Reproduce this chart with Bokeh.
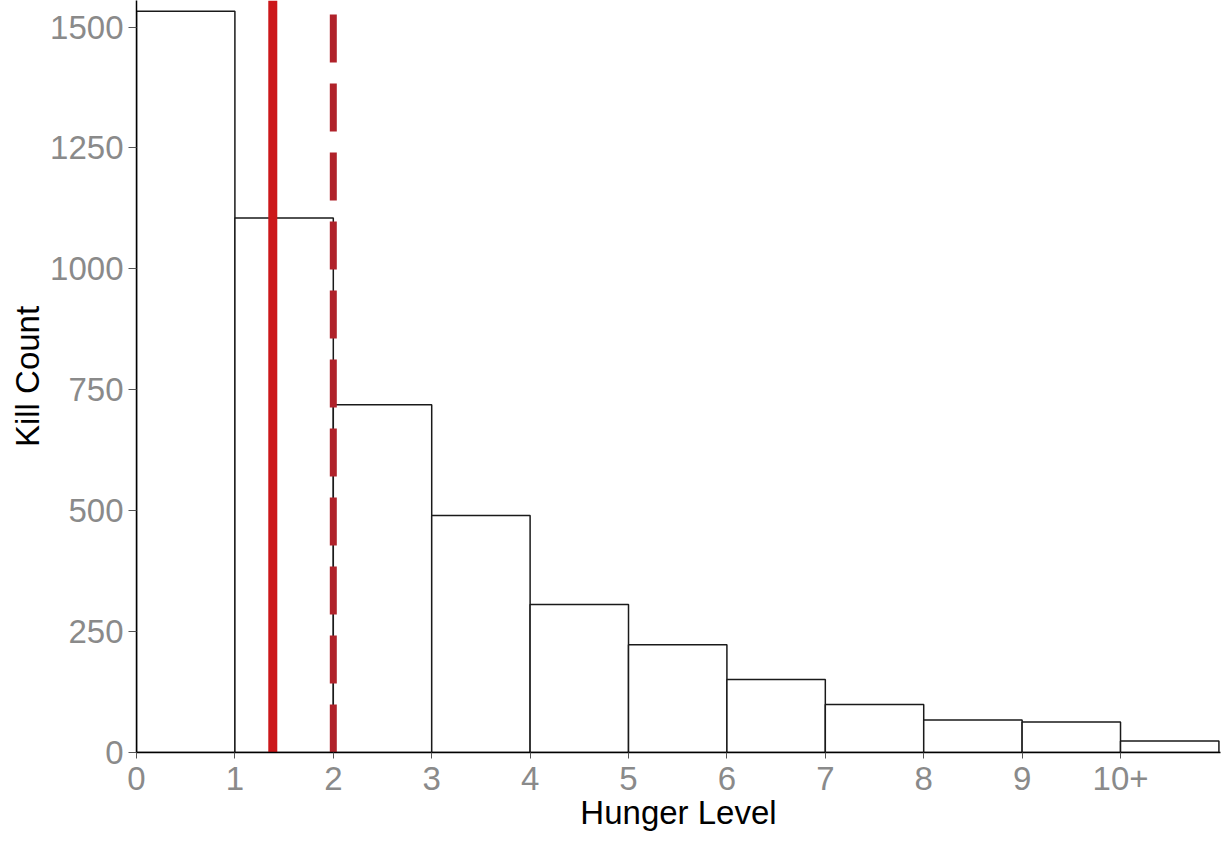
from bokeh.plotting import figure
from bokeh.models import Range1d, FixedTicker
from bokeh.embed import file_html
from bokeh.resources import INLINE

# Data
bin_left = [0, 1, 2, 3, 4, 5, 6, 7, 8, 9, 10]
bin_right = [1, 2, 3, 4, 5, 6, 7, 8, 9, 10, 11]
kill_counts = [1533, 1105, 719, 490, 306, 223, 151, 99, 67, 63, 24]
x_ticks = [0, 1, 2, 3, 4, 5, 6, 7, 8, 9, 10]
x_tick_labels = ["0", "1", "2", "3", "4", "5", "6", "7", "8", "9", "10+"]
y_ticks = [0, 250, 500, 750, 1000, 1250, 1500]
mean_hunger = 1.385
median_hunger = 2.0

X_MAX = 11.016
Y_MAX = 1555

p = figure(width=1222, height=843, output_backend="svg", toolbar_location=None,
           x_range=Range1d(0, X_MAX), y_range=Range1d(0, Y_MAX),
           min_border_left=136, min_border_right=2, min_border_top=0, min_border_bottom=91)
p.outline_line_color = None
p.xgrid.visible = False
p.ygrid.visible = False
p.background_fill_color = "white"
p.border_fill_color = "white"

p.quad(left=bin_left, right=bin_right, bottom=0, top=kill_counts,
       fill_color="white", line_color="#1a1a1a", line_width=1.5)

p.segment(x0=[mean_hunger], y0=[0], x1=[mean_hunger], y1=[Y_MAX],
          line_color="#cc171a", line_width=9)
p.segment(x0=[median_hunger], y0=[0], x1=[median_hunger], y1=[Y_MAX],
          line_color="#b0222a", line_width=7, line_dash="48 21")

font = "Liberation Sans"
for ax in (p.xaxis[0], p.yaxis[0]):
    ax.axis_line_color = "black"
    ax.axis_line_width = 1.5
    ax.major_tick_line_color = "#555555"
    ax.major_tick_line_width = 1
    ax.major_tick_in = 0
    ax.minor_tick_line_color = None
    ax.major_label_text_font = font
    ax.major_label_text_font_size = "33px"
    ax.major_label_text_color = "#8a8a8a"
    ax.axis_label_text_font = font
    ax.axis_label_text_font_size = "33px"
    ax.axis_label_text_font_style = "normal"
    ax.axis_label_text_color = "black"

p.xaxis.ticker = FixedTicker(ticks=x_ticks)
p.xaxis.major_label_overrides = {t: l for t, l in zip(x_ticks, x_tick_labels)}
p.xaxis.axis_label = "Hunger Level"
p.xaxis.major_tick_out = 6
p.xaxis.major_label_standoff = 8
p.xaxis.axis_label_standoff = 1

p.yaxis.ticker = FixedTicker(ticks=y_ticks)
p.yaxis.axis_label = "Kill Count"
p.yaxis.major_tick_out = 8
p.yaxis.major_label_standoff = 5
p.yaxis.axis_label_standoff = 1

open("out.html", "w").write(file_html(p, INLINE))
